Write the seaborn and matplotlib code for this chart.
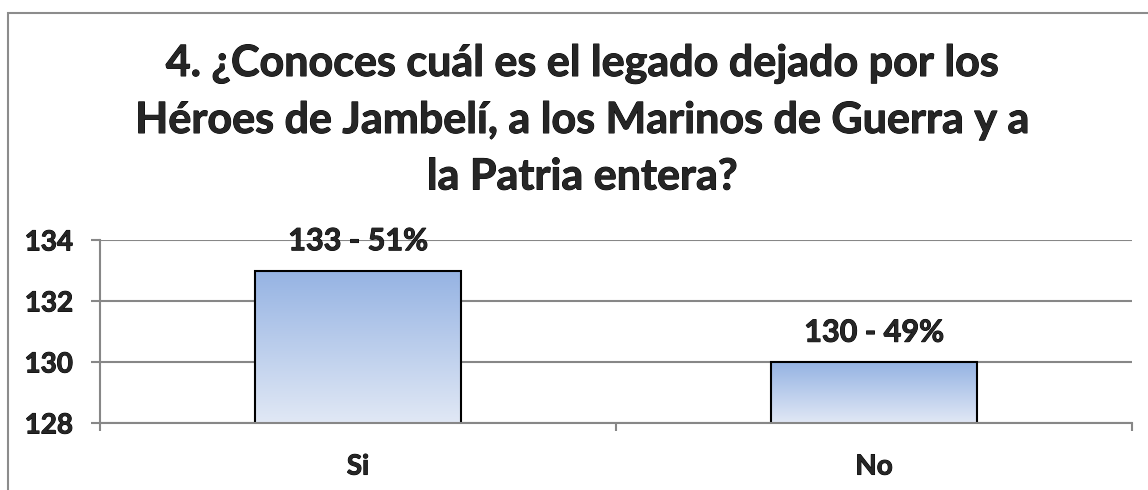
import matplotlib.pyplot as plt
import matplotlib.patheffects as pe
import seaborn as sns
import numpy as np
import pandas as pd
from matplotlib.patches import Rectangle
from matplotlib.colors import LinearSegmentedColormap

categories = ["Si", "No"]
counts = [133, 130]
percents = [51, 49]
yticks = [128, 130, 132, 134]
title = "4. ¿Conoces cuál es el legado dejado por los\nHéroes de Jambelí, a los Marinos de Guerra y a\nla Patria entera?"

sns.set_style("white")
plt.rcParams['font.family'] = ['Lato', 'DejaVu Sans']
plt.rcParams['font.weight'] = 'bold'

grid_c = '#878787'
wt = 'bold'
thick = [pe.withStroke(linewidth=0.7, foreground='black')]

df = pd.DataFrame({"resp": categories, "n": counts})

fig = plt.figure(figsize=(11.48, 4.9), dpi=100)
# outer chart border
fig.patches.append(Rectangle((8 / 1148, -0.1), 1.2, 1 - 13 / 490 + 0.1, transform=fig.transFigure,
                             fill=False, edgecolor='#8c8c8c', linewidth=1.5))

ax = fig.add_axes([100 / 1148, 1 - 423 / 490, 1032 / 1148, 183 / 490])
sns.barplot(data=df, x="resp", y="n", ax=ax, width=0.4, edgecolor='black', linewidth=1.5,
            facecolor='none')

ax.set_yticks(yticks)
ax.set_xlabel("")
ax.set_ylabel("")

# gradient fill inside bars
cmap = LinearSegmentedColormap.from_list("g", ["#e1e8f5", "#95b3e3"])
grad = np.linspace(0, 1, 256).reshape(-1, 1)
for p in ax.patches:
    x0, w = p.get_x(), p.get_width()
    top = p.get_y() + p.get_height()
    p.set_zorder(3)
    im = ax.imshow(grad, extent=[x0, x0 + w, 128, top], origin='lower', aspect='auto',
                   cmap=cmap, zorder=2)
    im.set_clip_path(p)
ax.set_xlim(-0.5, 1.5)
ax.set_ylim(128, 134)

labels = [f"{c} - {p}%" for c, p in zip(counts, percents)]
txts = ax.bar_label(ax.containers[0], labels=labels, padding=11, fontsize=22, fontweight=wt)

ax.grid(axis='y', color=grid_c, linewidth=1.5)
ax.set_axisbelow(True)
for s in ['top', 'right']:
    ax.spines[s].set_visible(False)
for s in ['left', 'bottom']:
    ax.spines[s].set_color(grid_c)
    ax.spines[s].set_linewidth(1.5)
    ax.spines[s].set_zorder(4)

ax.tick_params(axis='y', length=6.5, width=1.5, color=grid_c, pad=13, labelsize=20, direction='out', left=True)
ax.set_xticks([-0.5, 0.5, 1.5], minor=True)
ax.tick_params(axis='x', which='minor', length=6, width=1.5, color=grid_c, direction='out', bottom=True)
ax.tick_params(axis='x', which='major', length=0, pad=22, labelsize=20)

ttl = fig.text(582 / 1148, 1 - 43 / 490, title, ha='center', va='top', fontsize=31,
               fontweight=wt, linespacing=1.5)

for t in ax.get_xticklabels() + ax.get_yticklabels() + list(txts) + [ttl]:
    t.set_fontweight(wt)
    t.set_path_effects(thick)

fig.savefig("out.png", dpi=100)
